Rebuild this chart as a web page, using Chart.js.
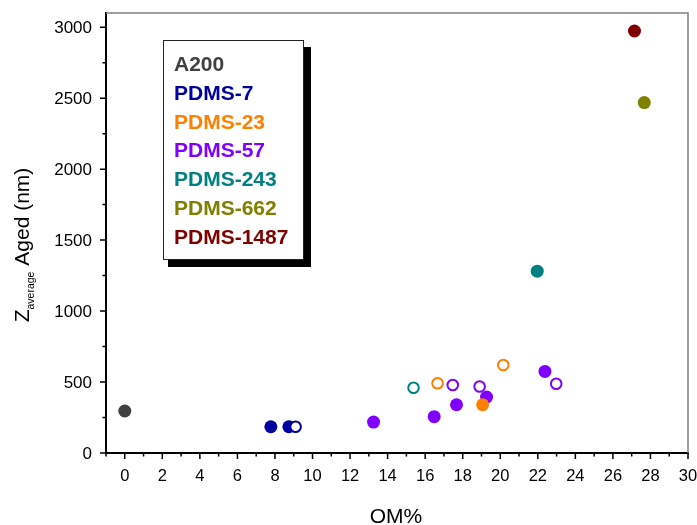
<!DOCTYPE html>
<html>
<head>
<meta charset="utf-8">
<script src="https://cdn.jsdelivr.net/npm/chart.js@4.4.0/dist/chart.umd.min.js"></script>
<style>
  body { margin: 0; background: #fff; }
  #wrap { width: 697px; height: 525px; }
</style>
</head>
<body>
<div id="wrap"><canvas id="zChart" width="697" height="525"></canvas></div>
<script>
// series names and colours
const seriesNames = ['A200', 'PDMS-7', 'PDMS-23', 'PDMS-57', 'PDMS-243', 'PDMS-662', 'PDMS-1487'];
const seriesColors = ['#404040', '#0000a0', '#ff8000', '#8000ff', '#008080', '#808000', '#800000'];

// OM% (x), Z average aged in nm (y), open marker flag
const a200X = [0];
const a200Y = [296];
const a200Open = [false];

const pdms7X = [7.78, 8.74, 9.1];
const pdms7Y = [185, 185, 185];
const pdms7Open = [false, false, true];

const pdms23X = [19.06, 16.66, 20.16];
const pdms23Y = [340, 491, 620];
const pdms23Open = [false, true, true];

const pdms57X = [13.25, 16.48, 17.67, 19.27, 22.38, 17.47, 18.9, 22.98];
const pdms57Y = [218, 256, 340, 394, 575, 479, 469, 488];
const pdms57Open = [false, false, false, false, false, true, true, true];

const pdms243X = [21.97, 15.38];
const pdms243Y = [1281, 460];
const pdms243Open = [false, true];

const pdms662X = [27.67];
const pdms662Y = [2469];
const pdms662Open = [false];

const pdms1487X = [27.15];
const pdms1487Y = [2973];
const pdms1487Open = [false];

const xTicks = [0, 2, 4, 6, 8, 10, 12, 14, 16, 18, 20, 22, 24, 26, 28, 30];
const yTicks = [0, 500, 1000, 1500, 2000, 2500, 3000];

const allX = [a200X, pdms7X, pdms23X, pdms57X, pdms243X, pdms662X, pdms1487X];
const allY = [a200Y, pdms7Y, pdms23Y, pdms57Y, pdms243Y, pdms662Y, pdms1487Y];
const allOpen = [a200Open, pdms7Open, pdms23Open, pdms57Open, pdms243Open, pdms662Open, pdms1487Open];

const datasets = seriesNames.map(function (name, i) {
    const open = allOpen[i];
    return {
        label: name,
        data: allX[i].map(function (x, j) { return { x: x, y: allY[i][j] }; }),
        pointRadius: open.map(function (o) { return o ? 5.3 : 6.5; }),
        pointBorderWidth: open.map(function (o) { return o ? 2 : 0; }),
        pointBackgroundColor: open.map(function (o) { return o ? '#ffffff' : seriesColors[i]; }),
        pointBorderColor: seriesColors[i],
        pointHoverRadius: 6.5
    };
});

const FONT = '"Liberation Sans", Arial, sans-serif';

// axes, labels, titles and the boxed legend are drawn here
const extras = {
    id: 'extras',
    afterDraw(chart) {
        const ctx = chart.ctx;
        const xs = chart.scales.x, ys = chart.scales.y;
        const a = chart.chartArea;
        ctx.save();

        // frame top and right
        ctx.strokeStyle = '#808080';
        ctx.lineWidth = 1.5;
        ctx.beginPath();
        ctx.moveTo(a.left, a.top);
        ctx.lineTo(a.right, a.top);
        ctx.lineTo(a.right, a.bottom);
        ctx.stroke();

        // tick marks
        ctx.strokeStyle = '#000';
        ctx.lineWidth = 1.5;
        ctx.beginPath();
        for (let v = -1; v <= 30; v++) {
            const px = xs.getPixelForValue(v);
            const len = v % 2 === 0 ? 6 : 3.5;
            ctx.moveTo(px, a.bottom);
            ctx.lineTo(px, a.bottom + len);
        }
        for (let v = 0; v <= 3000; v += 250) {
            const py = ys.getPixelForValue(v);
            const len = v % 500 === 0 ? 6 : 3.5;
            ctx.moveTo(a.left, py);
            ctx.lineTo(a.left - len, py);
        }
        ctx.stroke();

        // tick labels
        ctx.fillStyle = '#000';
        ctx.font = '16.5px ' + FONT;
        ctx.textAlign = 'center';
        ctx.textBaseline = 'top';
        xTicks.forEach(function (v) {
            ctx.fillText(String(v), xs.getPixelForValue(v), a.bottom + 15);
        });
        ctx.font = '17px ' + FONT;
        ctx.textAlign = 'right';
        ctx.textBaseline = 'middle';
        yTicks.forEach(function (v) {
            ctx.fillText(String(v), a.left - 14, ys.getPixelForValue(v) + 1);
        });

        // x title
        ctx.font = '21px ' + FONT;
        ctx.textAlign = 'center';
        ctx.textBaseline = 'alphabetic';
        ctx.fillText('OM%', 396, 523);

        // y title with subscript
        ctx.translate(29, 245);
        ctx.rotate(-Math.PI / 2);
        ctx.textAlign = 'left';
        const bigFont = '21px ' + FONT, subFont = '10.5px ' + FONT;
        ctx.font = bigFont;
        const wZ = ctx.measureText('Z').width;
        const wRest = ctx.measureText(' Aged (nm)').width;
        ctx.font = subFont;
        const wSub = ctx.measureText('average').width;
        let x0 = -(wZ + wSub + wRest) / 2;
        ctx.font = bigFont;
        ctx.fillText('Z', x0, 0);
        ctx.font = subFont;
        ctx.fillText('average', x0 + wZ, 5);
        ctx.font = bigFont;
        ctx.fillText(' Aged (nm)', x0 + wZ + wSub, 0);
        ctx.setTransform(1, 0, 0, 1, 0, 0);

        // legend box with shadow
        ctx.fillStyle = '#000';
        ctx.fillRect(304, 47, 7, 220);
        ctx.fillRect(168, 260, 143, 7);
        ctx.fillStyle = '#fff';
        ctx.fillRect(163, 40, 141, 220);
        ctx.strokeStyle = '#222';
        ctx.lineWidth = 1;
        ctx.strokeRect(163.5, 40.5, 140, 219);
        ctx.font = 'bold 21px ' + FONT;
        ctx.textAlign = 'left';
        seriesNames.forEach(function (name, i) {
            ctx.fillStyle = seriesColors[i];
            ctx.fillText(name, 174, 71 + i * 28.8);
        });
        ctx.restore();
    }
};

new Chart(document.getElementById('zChart'), {
    type: 'scatter',
    data: { datasets: datasets },
    options: {
        responsive: false,
        animation: false,
        layout: { padding: { left: 0, top: 13, right: 9, bottom: 0 } },
        plugins: {
            legend: { display: false },
            tooltip: { enabled: false }
        },
        scales: {
            x: {
                type: 'linear',
                min: -1,
                max: 30,
                afterFit(scale) { scale.height = 72; },
                grid: { display: false, drawTicks: false },
                border: { display: true, color: '#000', width: 2 },
                ticks: { display: false }
            },
            y: {
                type: 'linear',
                min: 0,
                max: 3100,
                afterFit(scale) { scale.width = 106; },
                grid: { display: false, drawTicks: false },
                border: { display: true, color: '#000', width: 2 },
                ticks: { display: false }
            }
        }
    },
    plugins: [extras]
});
</script>
</body>
</html>
